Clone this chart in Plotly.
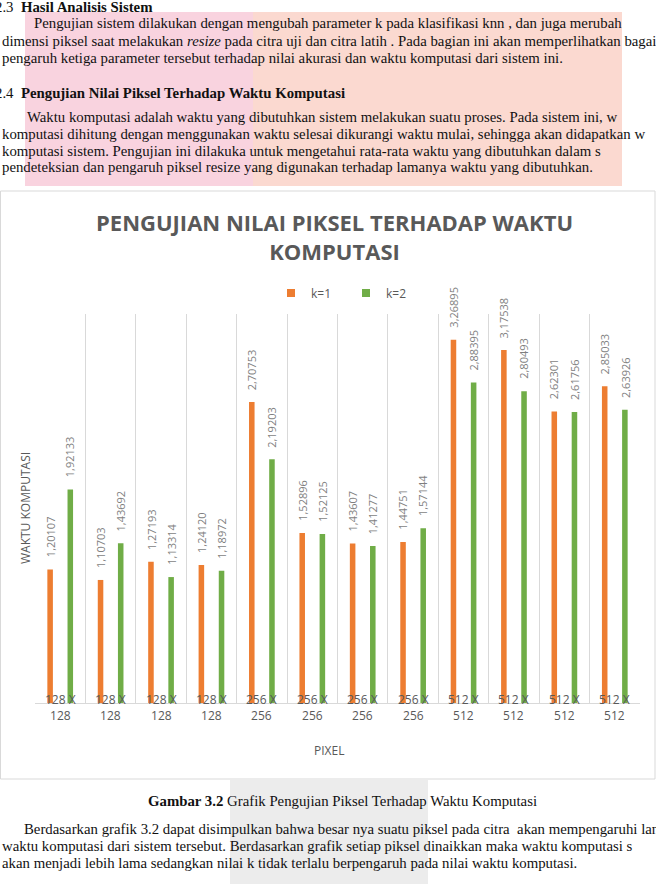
import plotly.graph_objects as go

# ---------------- data ----------------
pixel_labels = ["128 X<br>128", "128 X<br>128", "128 X<br>128", "128 X<br>128",
                "256 X<br>256", "256 X<br>256", "256 X<br>256", "256 X<br>256",
                "512 X<br>512", "512 X<br>512", "512 X<br>512", "512 X<br>512"]
k1_values = [1.20107, 1.10703, 1.27193, 1.24120, 2.70753, 1.52896,
             1.43607, 1.44751, 3.26895, 3.17538, 2.62301, 2.85033]
k2_values = [1.92133, 1.43692, 1.13314, 1.18972, 2.19203, 1.52125,
             1.41277, 1.57144, 2.88395, 2.80493, 2.61756, 2.63926]
series_names = ["k=1", "k=2"]

chart_title = "PENGUJIAN NILAI PIKSEL TERHADAP WAKTU<br>KOMPUTASI"
y_title = "WAKTU KOMPUTASI"
x_title = "PIXEL"

top_lines = [
    ("2.3  <b>Hasil Analisis Sistem</b>", -7, 7),
    ("Pengujian sistem dilakukan dengan mengubah parameter k pada klasifikasi knn , dan juga merubah", 32, 23),
    ("dimensi piksel saat melakukan <i>resize</i> pada citra uji dan citra latih . Pada bagian ini akan memperlihatkan bagai", 0, 41),
    ("pengaruh ketiga parameter tersebut terhadap nilai akurasi dan waktu komputasi dari sistem ini.", 0, 58),
    ("2.4  <b>Pengujian Nilai Piksel Terhadap Waktu Komputasi</b>", -7, 93),
    ("Waktu komputasi adalah waktu yang dibutuhkan sistem melakukan suatu proses. Pada sistem ini, w", 25, 117),
    ("komputasi dihitung dengan menggunakan waktu selesai dikurangi waktu mulai, sehingga akan didapatkan w", 0, 134),
    ("komputasi sistem. Pengujian ini dilakuka untuk mengetahui rata-rata waktu yang dibutuhkan dalam s", 0, 151),
    ("pendeteksian dan pengaruh piksel resize yang digunakan terhadap lamanya waktu yang dibutuhkan.", 0, 167),
    ("Berdasarkan grafik 3.2 dapat disimpulkan bahwa besar nya suatu piksel pada citra  akan mempengaruhi lan", 22, 829),
    ("waktu komputasi dari sistem tersebut. Berdasarkan grafik setiap piksel dinaikkan maka waktu komputasi s", 0, 846),
    ("akan menjadi lebih lama sedangkan nilai k tidak terlalu berpengaruh pada nilai waktu komputasi.", 0, 863),
]
caption = "<b>Gambar 3.2</b> Grafik Pengujian Piksel Terhadap Waktu Komputasi"

# ---------------- layout geometry ----------------
W, H = 656, 893
L, R, T, B = 35, 16, 314, 190
PW, PH = W - L - R, H - T - B

def px(x):
    return (x - L) / PW

def py(y):
    return (H - B - y) / PH

ORANGE = "#ED7D31"
GREEN = "#70AD47"
GRID = "#d9d9d9"
TXT = "#595959"
DOC_FONT = dict(family="Liberation Serif", size=14.8, color="#111111")

xs = list(range(len(k1_values)))
bar_w = 0.11

fig = go.Figure()
fig.add_trace(go.Bar(x=xs, y=k1_values, width=bar_w, offset=-0.2 - bar_w / 2,
                     marker=dict(color=ORANGE, line=dict(width=0)), showlegend=False,
                     name=series_names[0], hoverinfo="y"))
fig.add_trace(go.Bar(x=xs, y=k2_values, width=bar_w, offset=0.2 - bar_w / 2,
                     marker=dict(color=GREEN, line=dict(width=0)), showlegend=False,
                     name=series_names[1], hoverinfo="y"))
# legend entries
for nm, col in zip(series_names, [ORANGE, GREEN]):
    fig.add_trace(go.Scatter(x=[None], y=[None], mode="markers", name=nm,
                             marker=dict(symbol="square", size=8, color=col)))

annotations = []
# data labels
for vals, off in [(k1_values, -0.2), (k2_values, 0.2)]:
    for i, v in enumerate(vals):
        annotations.append(dict(
            x=i + off, y=v, xref="x", yref="y", text=f"{v:.5f}".replace(".", ","),
            textangle=-90, showarrow=False, yanchor="bottom", xanchor="center",
            yshift=10, font=dict(family="Open Sans", size=11, color="#7f7f7f")))
# category labels
for i, lab in enumerate(pixel_labels):
    annotations.append(dict(
        x=i, y=py(707), xref="x", yref="paper", text=lab, showarrow=False,
        yanchor="middle", xanchor="center",
        font=dict(family="Open Sans", size=12, color=TXT)))
# chart title
annotations.append(dict(x=px(334), y=py(236), xref="paper", yref="paper", text=chart_title,
                        showarrow=False, xanchor="center", yanchor="middle",
                        font=dict(family="Open Sans", size=22, color=TXT, weight="bold")))
# axis titles
annotations.append(dict(x=px(25), y=py(508), xref="paper", yref="paper", text=y_title,
                        textangle=-90, showarrow=False, xanchor="center", yanchor="middle",
                        font=dict(family="Open Sans", size=12, color=TXT)))
annotations.append(dict(x=px(329), y=py(750), xref="paper", yref="paper", text=x_title,
                        showarrow=False, xanchor="center", yanchor="middle",
                        font=dict(family="Open Sans", size=12, color=TXT)))
# document text
for txt, x0, yc in top_lines:
    annotations.append(dict(x=px(x0), y=py(yc), xref="paper", yref="paper", text=txt,
                            showarrow=False, xanchor="left", yanchor="middle",
                            font=DOC_FONT))
annotations.append(dict(x=px(342), y=py(801), xref="paper", yref="paper", text=caption,
                        showarrow=False, xanchor="center", yanchor="middle",
                        font=DOC_FONT))

shapes = [
    # watermark tints
    dict(type="rect", xref="paper", yref="paper", x0=px(25), x1=px(253), y0=py(186), y1=py(12),
         fillcolor="#f9d3df", line=dict(width=0), layer="below"),
    dict(type="rect", xref="paper", yref="paper", x0=px(253), x1=px(622), y0=py(186), y1=py(12),
         fillcolor="#fbd9d0", line=dict(width=0), layer="below"),
    dict(type="rect", xref="paper", yref="paper", x0=px(230), x1=px(428), y0=py(884), y1=py(780),
         fillcolor="#ececec", line=dict(width=0), layer="below"),
    # chart frame
    dict(type="rect", xref="paper", yref="paper", x0=px(0.5), x1=px(655), y0=py(779), y1=py(191),
         fillcolor="white", line=dict(width=1, color=GRID), layer="below"),
]

fig.update_layout(
    width=W, height=H,
    margin=dict(l=L, r=R, t=T, b=B, autoexpand=False),
    paper_bgcolor="white", plot_bgcolor="rgba(0,0,0,0)",
    barmode="overlay",
    showlegend=True,
    legend=dict(orientation="h", x=px(271), y=py(293), xanchor="left", yanchor="middle",
                font=dict(family="Open Sans", size=12, color=TXT),
                bgcolor="rgba(0,0,0,0)", entrywidth=30, entrywidthmode="pixels",
                itemwidth=30),
    xaxis=dict(range=[-0.5, 11.5], tickmode="linear", tick0=0.5, dtick=1,
               showgrid=True, gridcolor=GRID, gridwidth=1, showticklabels=False,
               ticks="", showline=True, linecolor=GRID, zeroline=False, fixedrange=True),
    yaxis=dict(range=[0, 3.5], showgrid=False, showticklabels=False, ticks="",
               zeroline=False, showline=False, fixedrange=True),
    annotations=annotations,
    shapes=shapes,
)

fig.write_html("out.html")
